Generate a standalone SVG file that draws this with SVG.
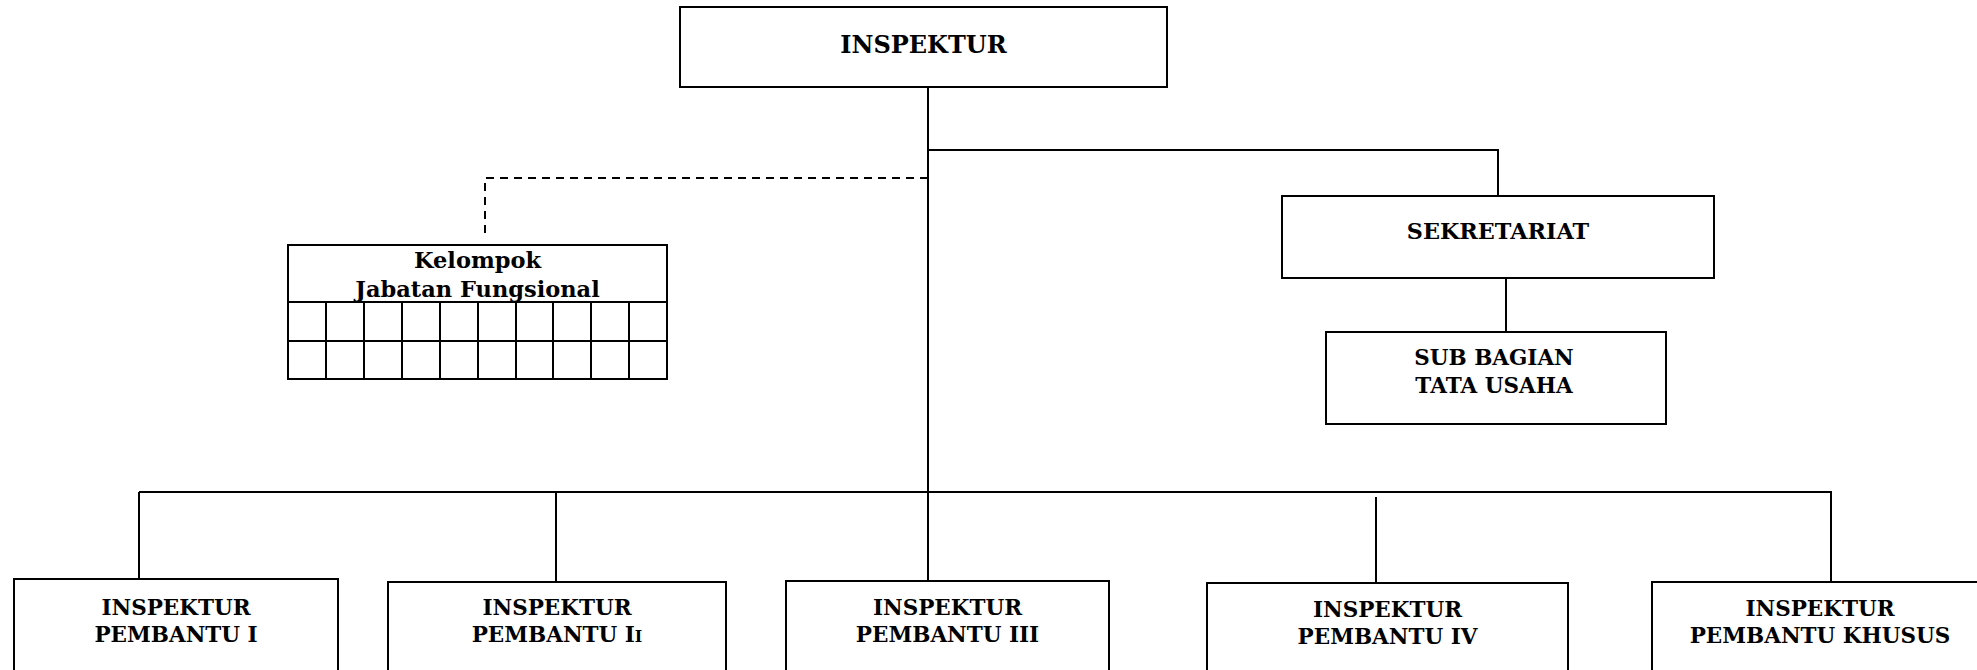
<svg xmlns="http://www.w3.org/2000/svg" width="1977" height="670" viewBox="0 0 1977 670">
<style>
.box{fill:#fff;stroke:#000;stroke-width:2}
.ln{fill:none;stroke:#000;stroke-width:2}
.dash{fill:none;stroke:#000;stroke-width:2;stroke-dasharray:8 6}
text{font-family:"DejaVu Serif","Liberation Serif",serif;font-weight:bold;fill:#000;text-anchor:middle}
.t{font-size:21.5px}
.big{font-size:24px}
.kf{font-size:22.5px}
</style>
<rect width="1977" height="670" fill="#fff"/>
<g id="connectors">
<path class="ln" d="M928 87V581"/>
<path class="ln" d="M928 150H1498V196"/>
<path class="dash" d="M928 178H485V238"/>
<path class="ln" d="M1506 278V332"/>
<path class="ln" d="M139 492H1831V582"/>
<path class="ln" d="M139 492V579"/>
<path class="ln" d="M556 492V582"/>
<path class="ln" d="M1376 497V583"/>
</g>
<g id="inspektur">
<rect class="box" x="680" y="7" width="487" height="80"/>
<text class="big" x="923.5" y="53">INSPEKTUR</text>
</g>
<g id="kelompok">
<rect class="box" x="288" y="245" width="379" height="134"/>
<path class="ln" d="M288 302H667M288 341H667M326 302V379M364 302V379M402 302V379M440 302V379M478 302V379M516 302V379M553 302V379M591 302V379M629 302V379"/>
<text class="kf" x="477.5" y="268">Kelompok</text>
<text class="kf" x="477.5" y="297">Jabatan Fungsional</text>
</g>
<g id="sekretariat">
<rect class="box" x="1282" y="196" width="432" height="82"/>
<text class="t" x="1498" y="239" style="font-size:22.3px">SEKRETARIAT</text>
</g>
<g id="subbagian">
<rect class="box" x="1326" y="332" width="340" height="92"/>
<text class="t" x="1494" y="365">SUB BAGIAN</text>
<text class="t" x="1494" y="393">TATA USAHA</text>
</g>
<g id="ip1">
<rect class="box" x="14" y="579" width="324" height="130"/>
<text class="t" x="176" y="615">INSPEKTUR</text>
<text class="t" x="176" y="642">PEMBANTU I</text>
</g>
<g id="ip2">
<rect class="box" x="388" y="582" width="338" height="130"/>
<text class="t" x="557" y="615">INSPEKTUR</text>
<text class="t" x="557" y="642">PEMBANTU I<tspan font-size="16px">I</tspan></text>
</g>
<g id="ip3">
<rect class="box" x="786" y="581" width="323" height="130"/>
<text class="t" x="947.5" y="615">INSPEKTUR</text>
<text class="t" x="947.5" y="642">PEMBANTU III</text>
</g>
<g id="ip4">
<rect class="box" x="1207" y="583" width="361" height="130"/>
<text class="t" x="1387.5" y="617">INSPEKTUR</text>
<text class="t" x="1387.5" y="644">PEMBANTU IV</text>
</g>
<g id="ipk">
<rect class="box" x="1652" y="582" width="340" height="130"/>
<text class="t" x="1820" y="616">INSPEKTUR</text>
<text class="t" x="1820" y="643">PEMBANTU KHUSUS</text>
</g>
</svg>
